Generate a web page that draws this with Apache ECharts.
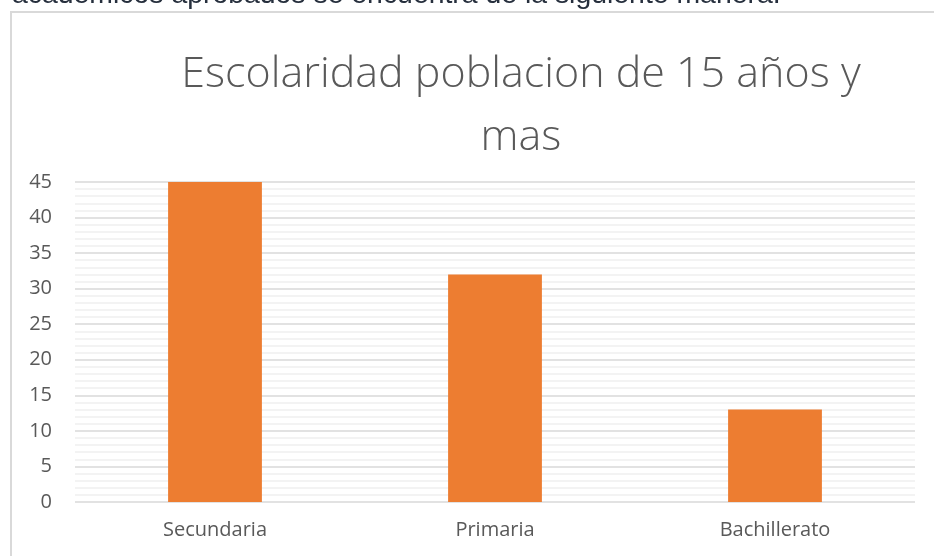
<!DOCTYPE html>
<html>
<head>
<meta charset="utf-8">
<script src="https://cdn.jsdelivr.net/npm/echarts@6/dist/echarts.min.js"></script>
<style>html,body{margin:0;padding:0;background:#fff;}#c{width:934px;height:556px;}</style>
</head>
<body>
<div id="c"></div>
<script>
var categories = ['Secundaria', 'Primaria', 'Bachillerato'];
var values = [45, 32, 13];
var yMin = 0, yMax = 45, yStep = 5;
var titleText = 'Escolaridad poblacion de 15 años y\nmas';
var introText = 'académicos aprobados se encuentra de la siguiente manera.';

var chart = echarts.init(document.getElementById('c'), null, {renderer: 'canvas'});
chart.setOption({
  animation: false,
  backgroundColor: '#ffffff',
  title: {
    text: titleText,
    left: 516,
    top: 38,
    textAlign: 'center',
    textStyle: {
      fontFamily: 'Open Sans',
      fontWeight: 300,
      fontSize: 43,
      color: '#595959',
      lineHeight: 63
    }
  },
  graphic: [
    {
      type: 'rect',
      shape: {x: 11, y: 12, width: 1000, height: 600},
      style: {fill: 'none', stroke: '#D9D9D9', lineWidth: 2},
      silent: true
    },
    {
      type: 'text',
      x: 12,
      y: -5,
      style: {
        text: introText,
        fontFamily: 'Liberation Sans',
        fontSize: 28.4,
        fill: '#262f3d',
        verticalAlign: 'middle',
        align: 'left'
      }
    }
  ],
  grid: {left: 75, right: 19, top: 182, bottom: 54, containLabel: false},
  xAxis: {
    type: 'category',
    data: categories,
    axisLine: {show: false},
    axisTick: {show: false},
    axisLabel: {
      color: '#595959',
      fontFamily: 'Open Sans',
      fontSize: 20,
      margin: 18
    }
  },
  yAxis: {
    type: 'value',
    min: yMin,
    max: yMax,
    interval: yStep,
    axisLine: {show: false},
    axisTick: {show: false},
    axisLabel: {
      color: '#595959',
      fontFamily: 'Open Sans',
      fontSize: 20,
      margin: 23
    },
    splitLine: {lineStyle: {color: '#D9D9D9', width: 1.5}},
    minorTick: {show: false, splitNumber: 5},
    minorSplitLine: {show: true, lineStyle: {color: '#F0F0F0', width: 1.5}}
  },
  series: [{
    type: 'bar',
    data: values,
    barWidth: '33.5%',
    itemStyle: {color: '#ED7D31'}
  }]
});
</script>
</body>
</html>
